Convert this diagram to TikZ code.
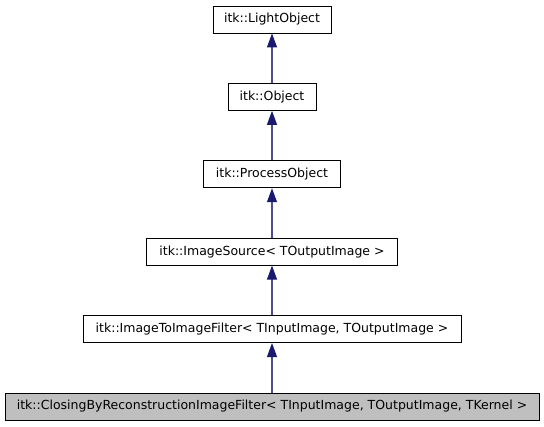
\documentclass[tikz,border=0pt]{standalone}
\usepackage{fontspec}
\setmainfont{DejaVu Sans}
\usetikzlibrary{arrows.meta}
\definecolor{edgeblue}{HTML}{191970}
\definecolor{edgeline}{HTML}{4C4C96}
\definecolor{boxgray}{HTML}{BFBFBF}
\begin{document}
\begin{tikzpicture}[x=1pt,y=-1pt,
  cls/.style={draw=black, line width=0.9pt, fill=white, minimum height=27pt, inner sep=0pt, font=\fontsize{12.5}{14}\selectfont},
  inh/.style={draw=edgeline, line width=1.1pt, -{Triangle[length=14pt,width=10pt,color=edgeblue,fill=edgeblue]}}
]
\useasboundingbox (0,0) rectangle (544,427);
\node[cls, minimum width=118pt] (lo) at (272,19.5) {itk::LightObject};
\node[cls, minimum width=88pt] (ob) at (272,96.9) {itk::Object};
\node[cls, minimum width=137pt] (po) at (272,174.3) {itk::ProcessObject};
\node[cls, minimum width=251pt] (is) at (272,251.7) {itk::ImageSource< TOutputImage >};
\node[cls, minimum width=378pt] (iti) at (272,329.1) {itk::ImageToImageFilter< TInputImage, TOutputImage >};
\node[cls, fill=boxgray, minimum width=534pt] (cb) at (272,406.5) {itk::ClosingByReconstructionImageFilter< TInputImage, TOutputImage, TKernel >};
\draw[inh] (ob) -- (lo);
\draw[inh] (po) -- (ob);
\draw[inh] (is) -- (po);
\draw[inh] (iti) -- (is);
\draw[inh] (cb) -- (iti);
\end{tikzpicture}
\end{document}
